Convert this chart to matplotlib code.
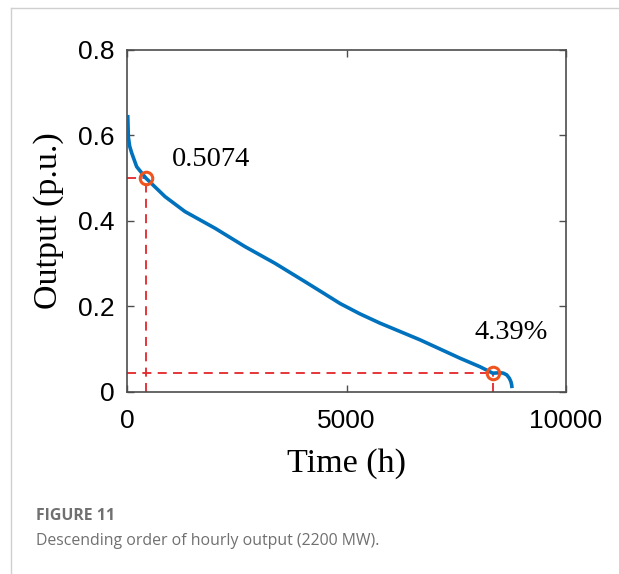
import matplotlib.pyplot as plt
from matplotlib.lines import Line2D

# duration curve (hours, p.u.)
hours = [0, 16, 30, 60, 107, 220, 433, 866, 1321, 2005, 2688, 3371, 4055,
         4510, 4852, 5300, 5763, 6674, 7585, 8041, 8330, 8500, 8573, 8650,
         8710, 8745, 8763, 8770]
output = [0.655, 0.648, 0.597, 0.575, 0.559, 0.527, 0.500, 0.457, 0.422,
          0.383, 0.340, 0.301, 0.258, 0.229, 0.207, 0.183, 0.161, 0.122,
          0.079, 0.059, 0.044, 0.045, 0.044, 0.040, 0.032, 0.024, 0.016,
          0.009]

marked_h = [433, 8330]
marked_v = [0.500, 0.0439]
marked_txt = ['0.5074', '4.39%']
txt_pos = [(1913, 0.543), (8760, 0.138)]

xticks = [0, 5000, 10000]
yticks = [0, 0.2, 0.4, 0.6, 0.8]

fig = plt.figure(figsize=(6.19, 5.74), dpi=100)
ax = fig.add_axes([0.2052, 0.3171, 0.7092, 0.5958])

# dashed guide lines
for h, v in zip(marked_h, marked_v):
  ax.plot([h, h], [0, v], color='#E3262B', lw=1.3, dashes=(5, 3.5), zorder=2)
  ax.plot([0, h], [v, v], color='#E3262B', lw=1.3, dashes=(5, 3.5), zorder=2)

ax.plot(hours[1:], output[1:], color='#0072BD', lw=2.6, solid_capstyle='butt', zorder=3)
ax.plot(marked_h, marked_v, 'o', ms=9, mfc='none', mec='#F0541E', mew=2.2, zorder=4)

for (tx, ty), s in zip(txt_pos, marked_txt):
  ax.text(tx, ty, s, ha='center', va='center', fontsize=20.5,
          family='Liberation Serif', color='black')

ax.set_xlim(0, 10000)
ax.set_ylim(0, 0.8)
ax.set_xticks(xticks)
ax.set_xticklabels(['0', '5000', '10000'])
ax.set_yticks(yticks)
ax.set_yticklabels(['0', '0.2', '0.4', '0.6', '0.8'])

for sp in ax.spines.values():
  sp.set_color('#4D4D4D')
  sp.set_linewidth(1.2)

ax.tick_params(direction='in', length=5, width=1, color='#4D4D4D',
               top=True, right=True, labelsize=19)
ax.tick_params(axis='x', pad=12)
ax.tick_params(axis='y', pad=9)
for lab in ax.get_xticklabels() + ax.get_yticklabels():
  lab.set_family('Liberation Sans')

ax.set_xlabel('Time (h)', family='Liberation Serif', fontsize=24.5, labelpad=11)
ax.set_ylabel('Output (p.u.)', family='Liberation Serif', fontsize=24.5, labelpad=10)

# page border lines and caption
fig.add_artist(Line2D([11/619, 11/619], [0, 1 - 8/574], color='#CFCFCF', lw=1))
fig.add_artist(Line2D([11/619, 1], [1 - 8/574, 1 - 8/574], color='#CFCFCF', lw=1))
fig.text(36/619, 1 - 516/574, 'FIGURE 11', family='Open Sans', fontweight='bold',
         fontsize=11.4, color='#707070', va='center')
fig.text(36/619, 1 - 541/574, 'Descending order of hourly output (2200 MW).',
         family='Open Sans', fontsize=11.4, color='#707070', va='center')

fig.savefig('out.png', dpi=100)
